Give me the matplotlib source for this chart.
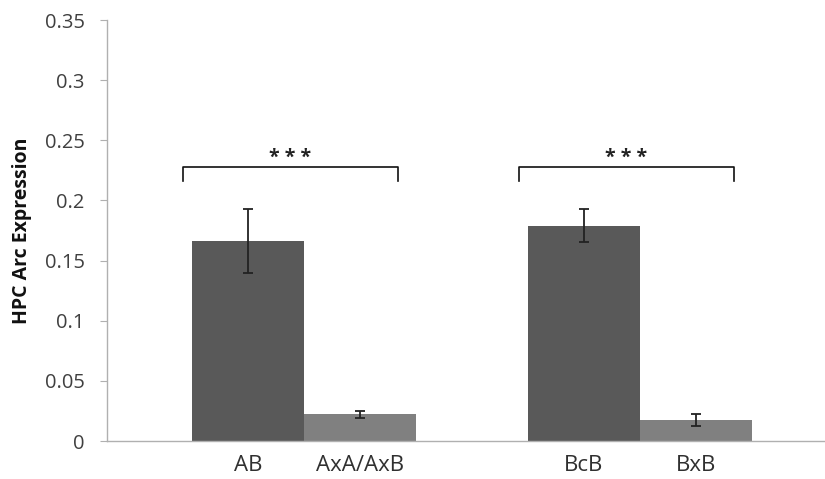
import matplotlib
matplotlib.use('Agg')
from matplotlib import pyplot as plt

# data
labels = ['AB', 'AxA/AxB', 'BcB', 'BxB']
values = [0.1665, 0.0222, 0.179, 0.0175]
errors = [0.0267, 0.003, 0.0135, 0.0052]
colors = ['#595959', '#808080', '#595959', '#808080']
group_centers = [0, 1]
sig_labels = ['* * *', '* * *']

plt.rcParams['font.family'] = ['Open Sans', 'DejaVu Sans']

fig = plt.figure(figsize=(8.25, 4.79), dpi=100)
ax = fig.add_axes([0.1297, 0.0793, 0.8703, 0.8789])

width = 1 / 3
xs = []
for g in group_centers:
    xs += [g - width / 2, g + width / 2]

ax.bar(xs, values, width=width, color=colors, edgecolor='none', zorder=2)
ax.errorbar(xs, values, yerr=errors, fmt='none', ecolor='#222222',
            elinewidth=1.3, capsize=3.8, capthick=1.3, zorder=3)

# significance brackets
for g, s in zip(group_centers, sig_labels):
    x0, x1 = g - 0.36, g + 0.28
    y, h = 0.228, 0.012
    ax.plot([x0, x0, x1, x1], [y - h, y, y, y - h], color='#111111', lw=1.2)
    ax.text((x0 + x1) / 2, y - 0.001, s, ha='center', va='bottom',
            fontsize=14, fontweight='bold', color='#222222')

ax.set_xlim(-0.586, 1.551)
ax.set_ylim(0, 0.35)
ax.set_yticks([0, 0.05, 0.1, 0.15, 0.2, 0.25, 0.3, 0.35])
ax.set_yticklabels(['0', '0.05', '0.1', '0.15', '0.2', '0.25', '0.3', '0.35'])
ax.set_xticks(xs)
ax.set_xticklabels(labels)

for side in ['top', 'right']:
    ax.spines[side].set_visible(False)
for side in ['left', 'bottom']:
    ax.spines[side].set_color('#b0b0b0')
    ax.spines[side].set_linewidth(1.0)

ax.tick_params(axis='y', length=5, color='#b0b0b0', labelsize=14.5,
               labelcolor='#404040', pad=11)
ax.tick_params(axis='x', length=0, labelsize=16, labelcolor='#303030', pad=10)

ax.set_ylabel('HPC Arc Expression', fontsize=14, fontweight='bold',
              color='#111111', labelpad=9)

fig.savefig('out.png', dpi=100)
